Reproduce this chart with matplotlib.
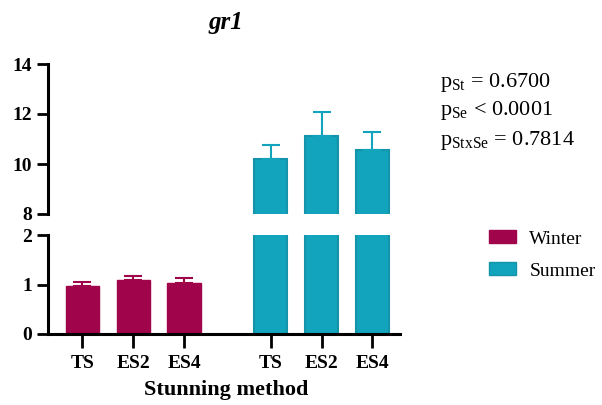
import matplotlib
matplotlib.use('Agg')
import matplotlib.pyplot as plt
from matplotlib.patches import Patch
import numpy as np

plt.rcParams['font.family'] = 'Liberation Serif'
plt.rcParams['mathtext.fontset'] = 'custom'
plt.rcParams['mathtext.rm'] = 'Liberation Serif'

methods = ['TS', 'ES2', 'ES4']
winter_mean = [0.97, 1.09, 1.03]
winter_err = [0.08, 0.09, 0.10]
summer_mean = [10.19, 11.11, 10.55]
summer_err = [0.57, 0.96, 0.72]

col_w = '#A0044A'
col_s = '#12A4BC'
edge_s = '#1394AA'

xw = np.array([0, 1, 2])
xs = xw + 3.7
bw = 0.65

W, H = 602, 405
fig = plt.figure(figsize=(6.02, 4.05), dpi=100)
ax_top = fig.add_axes([48 / W, (H - 214) / H, 352 / W, 150 / H])
ax_bot = fig.add_axes([48 / W, (H - 334) / H, 352 / W, 99 / H])

for ax in (ax_top, ax_bot):
    ax.bar(xw, winter_mean, bw, color=col_w, edgecolor=col_w, linewidth=1)
    ax.bar(xs, summer_mean, bw, color=col_s, edgecolor=edge_s, linewidth=1.5)
    ax.errorbar(xw, winter_mean, yerr=[np.zeros(3), winter_err], fmt='none',
                ecolor=col_w, elinewidth=1.5, capsize=6.5, capthick=1.5)
    ax.errorbar(xs, summer_mean, yerr=[np.zeros(3), summer_err], fmt='none',
                ecolor=col_s, elinewidth=1.5, capsize=6.5, capthick=1.5)
    ax.set_xlim(-0.67, 6.24)
    for s in ('top', 'right'):
        ax.spines[s].set_visible(False)
    ax.spines['left'].set_linewidth(2.2)
    ax.spines['bottom'].set_linewidth(2.2)
    ax.tick_params(width=2, length=8, labelsize=14)

ax_top.set_ylim(8, 14)
ax_top.set_yticks([8, 10, 12, 14])
ax_top.spines['bottom'].set_visible(False)
ax_top.set_xticks([])
ax_bot.set_ylim(0, 2)
ax_bot.set_yticks([0, 1, 2])
ax_bot.set_xticks(np.concatenate([xw, xs]))
ax_bot.set_xticklabels(methods + methods)
for ax in (ax_top, ax_bot):
    for lab in ax.get_yticklabels() + ax.get_xticklabels():
        lab.set_fontweight('bold')
ax_bot.tick_params(axis='x', length=10, pad=5)

fig.text(226 / W, 1 - 23 / H, 'gr1', ha='center', va='center',
         fontsize=18, fontweight='bold', fontstyle='italic')
fig.text(226 / W, 1 - 390 / H, 'Stunning method', ha='center', va='center',
         fontsize=16, fontweight='bold')

pvals = [r'p$_{\mathrm{St}}$ = 0.6700', r'p$_{\mathrm{Se}}$ < 0.0001',
         r'p$_{\mathrm{StxSe}}$ = 0.7814']
for i, t in enumerate(pvals):
    fig.text(440 / W, 1 - (82 + 29 * i) / H, t, ha='left', va='center', fontsize=16)

handles = [Patch(facecolor=col_w, edgecolor=col_w, label='Winter'),
           Patch(facecolor=col_s, edgecolor=edge_s, label='Summer')]
fig.legend(handles=handles, loc='center left', bbox_to_anchor=(471 / W, 1 - 255 / H),
           frameon=False, fontsize=14, handlelength=1.4, handleheight=0.65,
           labelspacing=0.75, handletextpad=0.7)

fig.savefig('out.png', dpi=100)
